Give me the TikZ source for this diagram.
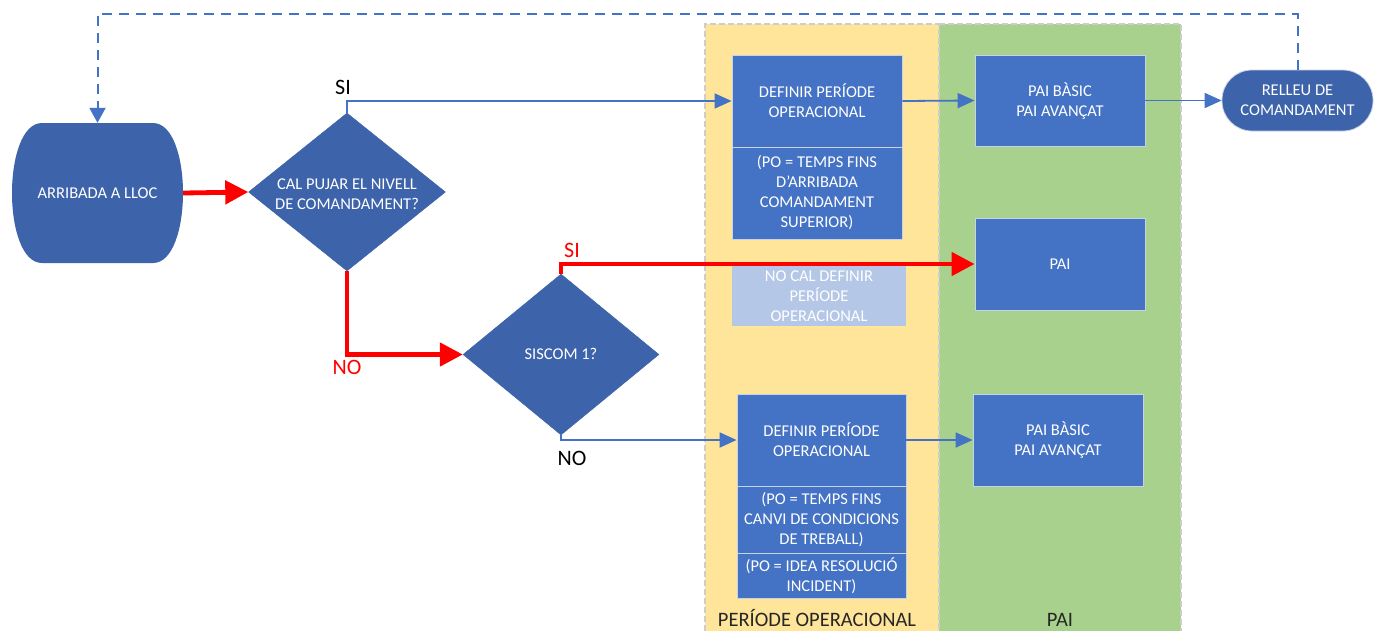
\documentclass[tikz,border=0pt]{standalone}
\usepackage{fontspec}
\setmainfont{Carlito}
\usetikzlibrary{arrows.meta,shapes.geometric}
\definecolor{boxblue}{RGB}{68,114,196}
\definecolor{darkblue}{RGB}{61,99,170}
\definecolor{lightblue}{RGB}{180,199,231}
\definecolor{boxedge}{RGB}{200,210,230}
\definecolor{bgyellow}{RGB}{255,229,153}
\definecolor{bggreen}{RGB}{169,209,142}
\definecolor{bordergray}{RGB}{205,205,205}
\definecolor{redline}{RGB}{255,0,0}
\definecolor{labelgray}{RGB}{38,38,38}
\begin{document}
\begin{tikzpicture}[x=1pt,y=-1pt,
  boxtxt/.style={font=\fontsize{16.5}{20}\selectfont, text=white, align=center},
  box/.style={boxtxt, rectangle, fill=boxblue, draw=boxedge, line width=0.8pt, inner sep=0pt},
  dia/.style={diamond, fill=darkblue, draw=darkblue, inner sep=0pt},
  bluearrow/.style={draw=boxblue, line width=1.8pt, -{Triangle[length=17pt,width=15pt]}},
  redarrow/.style={draw=redline, line width=4.8pt, -{Triangle[length=23pt,width=23pt]}},
  dasharrow/.style={draw=boxblue, line width=2pt, dash pattern=on 10pt off 7pt, -{Triangle[length=15pt,width=16pt]}},
  lbl/.style={font=\fontsize{22}{24}\selectfont},
  collbl/.style={font=\fontsize{20.5}{24}\selectfont, text=labelgray, anchor=base}
]
\useasboundingbox (0,0) rectangle (1379,630);
% background columns
\fill[bgyellow] (705,24) rectangle (939,640);
\fill[bggreen] (939,24) rectangle (1181,640);
\draw[bordergray, line width=1.2pt, dash pattern=on 6pt off 3pt] (705,640) -- (705,24) -- (939,24) -- (939,640);
\draw[bordergray, line width=1.2pt, dash pattern=on 6pt off 3pt] (939,24) -- (1181,24) -- (1181,640);
\node[collbl] (lblpo) at (817,626) {PERÍODE OPERACIONAL};
\node[collbl] (lblpai) at (1060,626) {PAI};

% start shape
\fill[darkblue] (42,123) -- (153,123) .. controls (193,123) and (193,263) .. (153,263) -- (42,263) .. controls (2,263) and (2,123) .. (42,123) -- cycle;
\node[boxtxt, minimum width=171pt, minimum height=140pt, inner sep=0pt] (arr) at (97.5,193) {ARRIBADA A LLOC};

% decisions
\node[dia, minimum width=197pt, minimum height=158pt] (d1) at (347,192) {};
\node[boxtxt] (d1t) at (347,194) {CAL PUJAR EL NIVELL\\DE COMANDAMENT?};
\node[dia, minimum width=196pt, minimum height=161pt] (d2) at (561,354.5) {};
\node[boxtxt] (d2t) at (561,354) {SISCOM 1?};

% boxes
\node[box, minimum width=170pt, minimum height=92pt] (def1) at (817,101) {DEFINIR PERÍODE\\OPERACIONAL};
\node[box, minimum width=170pt, minimum height=92pt] (def1b) at (817,193) {(PO = TEMPS FINS\\D'ARRIBADA\\COMANDAMENT\\SUPERIOR)};
\node[box, minimum width=170pt, minimum height=91pt] (pai1) at (1060,100.5) {PAI BÀSIC\\PAI AVANÇAT};
\node[boxtxt, rectangle, rounded corners=30pt, fill=darkblue, draw=boxedge, line width=0.8pt, minimum width=151pt, minimum height=61pt, inner sep=0pt] (rel) at (1297.5,100.5) {RELLEU DE\\COMANDAMENT};
\node[box, minimum width=170pt, minimum height=92pt] (pai2) at (1060,264) {PAI};
\node[boxtxt, rectangle, fill=lightblue, inner sep=0pt, minimum width=174pt, minimum height=60pt] (nocal) at (819,296) {NO CAL DEFINIR\\PERÍODE\\OPERACIONAL};
\node[box, minimum width=169pt, minimum height=92pt] (def2) at (821.5,440) {DEFINIR PERÍODE\\OPERACIONAL};
\node[box, minimum width=169pt, minimum height=67pt] (def2b) at (821.5,519.5) {(PO = TEMPS FINS\\CANVI DE CONDICIONS\\DE TREBALL)};
\node[box, minimum width=169pt, minimum height=45pt] (def2c) at (821.5,575.5) {(PO = IDEA RESOLUCIÓ\\INCIDENT)};
\node[box, minimum width=170pt, minimum height=92pt] (pai3) at (1058,440) {PAI BÀSIC\\PAI AVANÇAT};

% connectors
\coordinate (looptop) at (0,14);
\draw[dasharrow] (rel.north) -- (rel.north |- looptop) -| (arr.north);
\draw[redarrow] (arr.east) -- (d1.west);
\draw[bluearrow] (d1.north) |- (def1.west);
\draw[bluearrow] (def1.east) -- (pai1.west);
\draw[bluearrow] (pai1.east) -- (rel.west);
\draw[redarrow] (d1.south) |- (d2.west);
\draw[redarrow] (d2.north) |- (pai2.west);
\draw[bluearrow] (d2.south) |- (def2.west);
\draw[bluearrow] (def2.east) -- (pai3.west);

% labels
\node[lbl, text=black] (si1) at (343,87) {SI};
\node[lbl, text=redline] (no1) at (347,367) {NO};
\node[lbl, text=redline] (si2) at (572,250) {SI};
\node[lbl, text=black] (no2) at (572,458) {NO};
\end{tikzpicture}
\end{document}
